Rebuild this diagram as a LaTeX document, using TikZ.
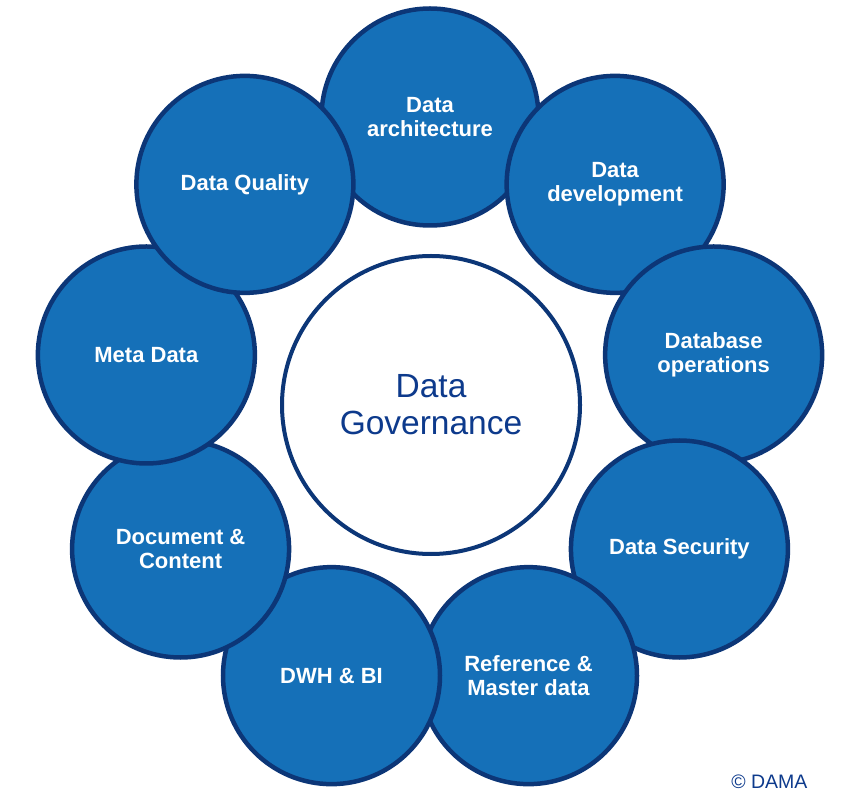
\documentclass[tikz,border=0pt]{standalone}
\usepackage{fontspec}
\setmainfont{Liberation Sans}
\usetikzlibrary{calc}
\definecolor{areablue}{HTML}{1570B8}
\definecolor{rimnavy}{HTML}{0C3677}
\definecolor{textnavy}{HTML}{0D3A8C}
\tikzset{
  area/.style={circle, draw=rimnavy, line width=4.5pt, fill=areablue, minimum size=217pt,
    text=white, font=\bfseries\fontsize{22}{24}\selectfont, align=center},
  hub/.style={circle, draw=rimnavy, line width=4pt, fill=white, minimum size=298pt,
    text=textnavy, font=\fontsize{33.5}{37}\selectfont, align=center}
}
\begin{document}
\begin{tikzpicture}[x=1pt, y=1pt]
                \useasboundingbox (0,0) rectangle (866,806);

                \coordinate (mid) at (430, 401);

                \foreach \ang/\nm/\txt in {90/arch/{Data\\architecture}, 50/dev/{Data\\development},
                    10/ops/{Database\\operations}, -30/sec/{Data Security}, -70/ref/{Reference \&\\Master data},
                    -110/dwh/{DWH \& BI}, -150/doc/{Document \&\\Content}, 170/meta/{Meta Data},
                    130/qual/{Data Quality}}
                    \node[area] (\nm) at ($(mid) + (\ang:288)$) {\txt};

                \node[hub] (gov) at (431, 401) {Data\\Governance};

                \node[anchor=east, text=textnavy, font=\fontsize{19.5}{22}\selectfont] (dama) at (811, 24) {© DAMA};
            \end{tikzpicture}
\end{document}
